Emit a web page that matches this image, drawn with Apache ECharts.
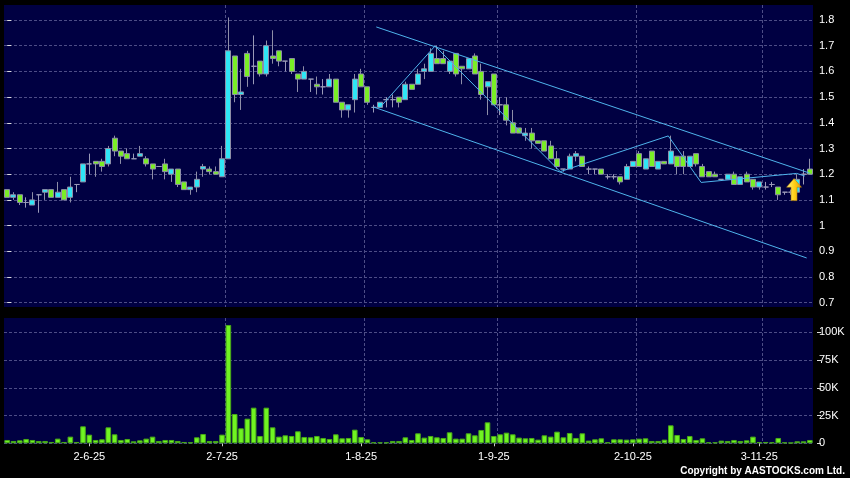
<!DOCTYPE html>
<html>
<head>
<meta charset="utf-8">
<script src="https://cdn.jsdelivr.net/npm/echarts@6/dist/echarts.min.js"></script>
<style>html,body{margin:0;padding:0;background:#000;}#c{width:850px;height:478px;}</style>
</head>
<body>
<div id="c"></div>
<script>
// Trading dates (D-M-YY)
const dates = [
 '14-5-25','15-5-25','16-5-25','19-5-25','20-5-25','21-5-25','22-5-25','23-5-25','26-5-25','27-5-25','28-5-25','29-5-25','30-5-25',
 '2-6-25','3-6-25','4-6-25','5-6-25','6-6-25','9-6-25','10-6-25','11-6-25','12-6-25','13-6-25','16-6-25','17-6-25','18-6-25','19-6-25','20-6-25','23-6-25','24-6-25','25-6-25','26-6-25','27-6-25','30-6-25',
 '2-7-25','3-7-25','4-7-25','7-7-25','8-7-25','9-7-25','10-7-25','11-7-25','14-7-25','15-7-25','16-7-25','17-7-25','18-7-25','21-7-25','22-7-25','23-7-25','24-7-25','25-7-25','28-7-25','29-7-25','30-7-25','31-7-25',
 '1-8-25','4-8-25','5-8-25','6-8-25','7-8-25','8-8-25','11-8-25','12-8-25','13-8-25','14-8-25','15-8-25','18-8-25','19-8-25','20-8-25','21-8-25','22-8-25','25-8-25','26-8-25','27-8-25','28-8-25','29-8-25',
 '1-9-25','2-9-25','3-9-25','4-9-25','5-9-25','8-9-25','9-9-25','10-9-25','11-9-25','12-9-25','15-9-25','16-9-25','17-9-25','18-9-25','19-9-25','22-9-25','23-9-25','24-9-25','25-9-25','26-9-25','29-9-25','30-9-25',
 '2-10-25','3-10-25','6-10-25','8-10-25','9-10-25','10-10-25','13-10-25','14-10-25','15-10-25','16-10-25','17-10-25','20-10-25','21-10-25','22-10-25','23-10-25','24-10-25','27-10-25','28-10-25','30-10-25','31-10-25',
 '3-11-25','4-11-25','5-11-25','6-11-25','7-11-25','10-11-25','11-11-25','12-11-25','13-11-25'
];
const tickDates = ['2-6-25','2-7-25','1-8-25','1-9-25','2-10-25','3-11-25'];

const opens = [
 1.14,1.11,1.12,1.09,1.08,1.12,1.13,1.14,1.11,1.14,
 1.11,1.16,1.17,1.24,1.25,1.25,1.24,1.34,1.29,1.28,
 1.26,1.27,1.26,1.24,1.23,1.24,1.20,1.22,1.17,1.14,
 1.15,1.22,1.22,1.21,1.19,1.26,1.66,1.51,1.67,1.62,
 1.64,1.59,1.66,1.68,1.64,1.65,1.59,1.57,1.57,1.55,
 1.54,1.54,1.57,1.48,1.45,1.49,1.59,1.54,1.46,1.46,
 1.49,1.49,1.50,1.49,1.55,1.55,1.60,1.60,1.65,1.65,
 1.60,1.67,1.62,1.61,1.66,1.60,1.54,1.59,1.47,1.47,
 1.40,1.38,1.35,1.36,1.33,1.33,1.31,1.26,1.22,1.22,
 1.27,1.27,1.22,1.22,1.22,1.19,1.19,1.19,1.18,1.23,
 1.28,1.22,1.29,1.22,1.25,1.24,1.27,1.27,1.23,1.28,
 1.23,1.21,1.20,1.18,1.18,1.20,1.16,1.20,1.18,1.15,
 1.15,1.16,1.15,1.13,1.13,1.13,1.20,1.22
];
const closes = [
 1.11,1.12,1.09,1.09,1.10,1.12,1.14,1.11,1.13,1.10,
 1.15,1.16,1.24,1.24,1.24,1.23,1.30,1.29,1.27,1.26,
 1.26,1.28,1.24,1.22,1.23,1.21,1.22,1.16,1.14,1.15,
 1.18,1.23,1.21,1.20,1.26,1.68,1.51,1.52,1.58,1.62,
 1.59,1.70,1.65,1.64,1.64,1.60,1.57,1.60,1.57,1.54,
 1.54,1.57,1.48,1.45,1.47,1.57,1.54,1.48,1.46,1.48,
 1.49,1.49,1.48,1.55,1.53,1.59,1.61,1.67,1.63,1.63,
 1.64,1.59,1.61,1.65,1.59,1.51,1.56,1.47,1.47,1.41,
 1.36,1.36,1.36,1.33,1.32,1.29,1.26,1.23,1.22,1.27,
 1.28,1.23,1.22,1.22,1.20,1.19,1.19,1.17,1.23,1.25,
 1.23,1.26,1.23,1.25,1.24,1.29,1.23,1.23,1.27,1.24,
 1.19,1.19,1.19,1.18,1.20,1.16,1.19,1.17,1.15,1.17,
 1.15,1.16,1.12,1.13,1.13,1.18,1.20,1.20
];
const lows = [
 1.11,1.10,1.08,1.07,1.08,1.05,1.10,1.11,1.11,1.10,
 1.09,1.13,1.17,1.20,1.19,1.21,1.23,1.27,1.24,1.26,
 1.26,1.27,1.23,1.18,1.23,1.18,1.17,1.15,1.14,1.12,
 1.13,1.19,1.20,1.20,1.19,1.26,1.48,1.45,1.54,1.55,
 1.58,1.58,1.63,1.62,1.60,1.59,1.52,1.57,1.52,1.51,
 1.51,1.54,1.48,1.42,1.42,1.44,1.54,1.47,1.44,1.46,
 1.46,1.46,1.46,1.49,1.53,1.55,1.57,1.60,1.63,1.63,
 1.59,1.58,1.55,1.61,1.59,1.49,1.43,1.47,1.43,1.39,
 1.36,1.36,1.33,1.30,1.32,1.29,1.26,1.22,1.21,1.22,
 1.25,1.23,1.20,1.20,1.20,1.18,1.18,1.16,1.18,1.23,
 1.23,1.22,1.23,1.22,1.24,1.24,1.20,1.20,1.23,1.23,
 1.19,1.19,1.19,1.18,1.18,1.16,1.16,1.17,1.14,1.14,
 1.14,1.15,1.10,1.12,1.12,1.13,1.16,1.20
];
const highs = [
 1.14,1.13,1.12,1.11,1.13,1.12,1.14,1.14,1.17,1.14,
 1.19,1.16,1.24,1.28,1.25,1.26,1.31,1.35,1.29,1.30,
 1.28,1.31,1.27,1.24,1.23,1.26,1.22,1.22,1.17,1.15,
 1.21,1.24,1.23,1.23,1.31,1.81,1.66,1.61,1.68,1.74,
 1.64,1.72,1.76,1.68,1.64,1.65,1.59,1.62,1.57,1.58,
 1.57,1.59,1.57,1.48,1.47,1.59,1.61,1.54,1.47,1.48,
 1.50,1.51,1.50,1.56,1.55,1.61,1.63,1.69,1.70,1.68,
 1.64,1.67,1.62,1.65,1.67,1.63,1.56,1.59,1.50,1.50,
 1.45,1.38,1.38,1.38,1.33,1.33,1.33,1.29,1.22,1.28,
 1.29,1.27,1.23,1.22,1.22,1.20,1.20,1.19,1.24,1.25,
 1.29,1.26,1.29,1.25,1.25,1.35,1.27,1.29,1.27,1.28,
 1.24,1.21,1.21,1.18,1.20,1.21,1.19,1.21,1.18,1.17,
 1.17,1.17,1.15,1.13,1.14,1.20,1.22,1.26
];
// Volume in thousands of shares
const volumesK = [
 3,2.1,2.7,3.9,3,2.1,2.1,1.2,4.2,1.2,
 6,1.2,15.3,7.8,3,3.6,14.4,8.1,3,3.9,
 1.8,2.7,4.2,6,2.1,3,3,2.1,1.2,0.9,
 5.4,8.4,2.1,2.1,7.8,106.6,26.4,13.5,22.2,32.1,
 6.6,32.1,14.4,6,7.2,6.6,10.8,5.7,5.4,6.6,
 4.8,3.9,8.1,4.5,4.8,12.3,5.7,3.6,0.9,0.9,
 0.9,2.1,2.1,5.4,3,9,5.1,6.6,5.4,4.8,
 9.9,4.2,4.2,9,7.2,12,18.9,6.6,8.1,9.6,
 8.1,5.1,4.5,4.8,3.3,7.2,6,10.5,5.4,9.3,
 4.8,9,2.4,3.6,4.5,0.9,3.6,3.6,3.3,3.6,
 4.2,4.5,2.1,2.1,3.3,16.2,7.5,3.9,6.6,3,
 4.5,0.9,0.9,2.4,2.1,3,2.1,2.7,6,1.2,
 1.2,0.9,4.8,0.9,0.6,1.8,1.8,3
];
// Drawn trend lines: [position along bars (0-based), price]
const upperChannel = [[58.4, 1.773], [127.0, 1.204]];
const lowerChannel = [[57.9, 1.462], [126.5, 0.874]];
const zigzagLine = [[59.0, 1.46], [67.7, 1.699], [87.5, 1.21], [104.6, 1.349], [109.8, 1.168], [124.9, 1.203], [126.2, 1.193]];
const arrowMark = [[124.5, 1.14]];
const priceTicks = {min: 0.7, max: 1.8, step: 0.1};
const volTicks = {min: 0, max: 100000, step: 25000};

const candleData = dates.map((d, i) => [opens[i], closes[i], lows[i], highs[i]]);
const volData = volumesK.map(v => v * 1000);

const labelAt = (idx, val) => tickDates.indexOf(dates[idx]) >= 0;
const gridAt = (idx) => idx > 0 && tickDates.indexOf(dates[idx - 1]) >= 0;

const FONT = '"Liberation Sans", Arial, sans-serif';
const gridLine = {show: true, lineStyle: {color: '#4d4d86', width: 1, type: [3, 2]}};
const BG = '#000042';

const chart = echarts.init(document.getElementById('c'), null, {renderer: 'canvas'});
chart.setOption({
  backgroundColor: '#000',
  animation: false,
  grid: [
    {left: 4, right: 37, top: 20, height: 282.7},
    {left: 4, right: 37, top: 332.3, height: 111},
    {left: 4, right: 37, top: 5, height: 302, show: true, backgroundColor: BG, borderWidth: 0},
    {left: 4, right: 37, top: 318, height: 125.5, show: true, backgroundColor: BG, borderWidth: 0}
  ],
  xAxis: [
    {type: 'category', gridIndex: 0, data: dates, show: false},
    {type: 'category', gridIndex: 1, data: dates, offset: 2,
      axisLine: {show: false},
      axisTick: {show: true, alignWithLabel: true, interval: labelAt, length: 3, lineStyle: {color: '#cccccc'}},
      axisLabel: {interval: labelAt, color: '#ffffff', fontSize: 11, fontFamily: FONT, margin: 6},
      splitLine: {show: false}},
    {type: 'value', gridIndex: 0, min: -0.5, max: dates.length - 0.5, show: false, position: 'top'},
    {type: 'category', gridIndex: 2, data: dates, axisLine: {show: false}, axisTick: {show: false}, axisLabel: {show: false},
      splitLine: Object.assign({interval: gridAt, showMaxLine: false, showMinLine: false}, gridLine)},
    {type: 'category', gridIndex: 3, data: dates, axisLine: {show: false}, axisTick: {show: false}, axisLabel: {show: false},
      splitLine: Object.assign({interval: gridAt, showMaxLine: false, showMinLine: false}, gridLine)}
  ],
  yAxis: [
    {type: 'value', gridIndex: 0, position: 'right', offset: 4, min: priceTicks.min, max: priceTicks.max, interval: priceTicks.step,
      axisLine: {show: false},
      axisTick: {show: true, length: 4, lineStyle: {color: '#dddddd'}},
      axisLabel: {color: '#ffffff', fontSize: 11, fontFamily: FONT, margin: 2,
        formatter: v => String(Math.round(v * 10) / 10)},
      splitLine: gridLine},
    {type: 'value', gridIndex: 1, position: 'right', offset: 4, min: volTicks.min, max: volTicks.max, interval: volTicks.step,
      axisLine: {show: false},
      axisTick: {show: true, length: 4, lineStyle: {color: '#dddddd'}},
      axisLabel: {color: '#ffffff', fontSize: 11, fontFamily: FONT, margin: 2,
        formatter: v => v === 0 ? '0' : Math.round(v / 1000) + 'K'},
      splitLine: gridLine},
    {type: 'value', gridIndex: 2, show: false},
    {type: 'value', gridIndex: 3, show: false}
  ],
  series: [
    {type: 'candlestick', name: 'Price', xAxisIndex: 0, yAxisIndex: 0, data: candleData, barWidth: 5.5, clip: false, z: 3,
      itemStyle: {color: '#2fe6f6', color0: '#7aee26', borderColor: '#8e8ea8', borderColor0: '#8e8ea8', borderColorDoji: '#9a9ab8', borderWidth: 1}},
    {type: 'bar', name: 'Volume', xAxisIndex: 1, yAxisIndex: 1, data: volData, barWidth: 5.6, clip: false,
      itemStyle: {color: '#70f422', borderColor: '#48a818', borderWidth: 1}},
    {type: 'line', xAxisIndex: 2, yAxisIndex: 0, data: upperChannel, symbol: 'none', silent: true, z: 5,
      lineStyle: {color: '#4fb4ec', width: 1}},
    {type: 'line', xAxisIndex: 2, yAxisIndex: 0, data: lowerChannel, symbol: 'none', silent: true, z: 5,
      lineStyle: {color: '#4fb4ec', width: 1}},
    {type: 'line', xAxisIndex: 2, yAxisIndex: 0, data: zigzagLine, symbol: 'none', silent: true, z: 5,
      lineStyle: {color: '#4fb4ec', width: 1}},
    {type: 'scatter', xAxisIndex: 2, yAxisIndex: 0, data: arrowMark, silent: true, z: 6,
      symbol: 'path://M7.5,0 L15,9 L10.5,9 L10.5,23 L4.5,23 L4.5,9 L0,9 Z', symbolSize: [15, 22],
      itemStyle: {opacity: 1, borderColor: '#b07a00', borderWidth: 0.5,
        color: new echarts.graphic.LinearGradient(0, 0, 1, 0, [{offset: 0, color: '#fff48a'}, {offset: 0.5, color: '#ffd21a'}, {offset: 1, color: '#e89a00'}])}}
  ],
  graphic: [
    {type: 'text', right: 5, bottom: 2, style: {text: 'Copyright by AASTOCKS.com Ltd.', fill: '#ffffff', font: 'bold 10px "Liberation Sans", Arial, sans-serif'}}
  ]
});
</script>
</body>
</html>
